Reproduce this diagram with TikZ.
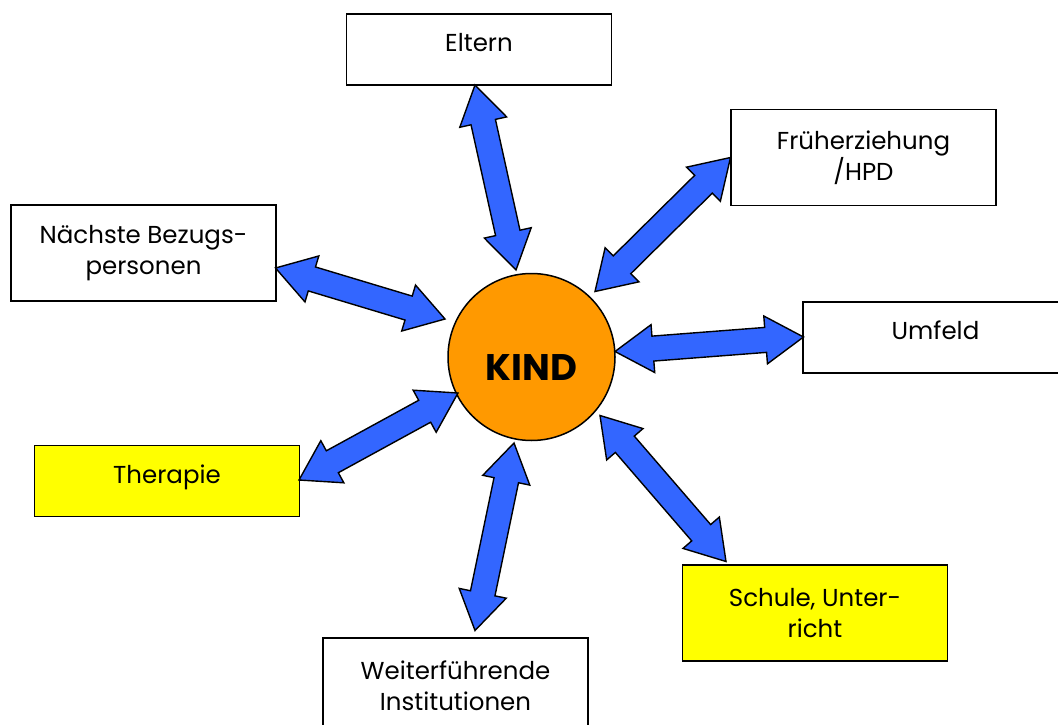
\documentclass[tikz,border=0pt]{standalone}
\usepackage{fontspec}
\setmainfont{Poppins}
\usetikzlibrary{calc}
\definecolor{arrblue}{RGB}{51,102,255}
\definecolor{kindorange}{RGB}{255,153,0}
\definecolor{boxyellow}{RGB}{255,255,0}

% fat double arrow between two named tips
\newcommand{\hl}{38pt}
\newcommand{\hw}{24pt}
\newcommand{\sw}{12.5pt}
\newcommand{\fatarrow}[2]{%
  \draw[fatarr] (#1)
    -- ($(#1)!\hl!(#2)!\hw!90:(#2)$)
    -- ($(#1)!\hl!(#2)!\sw!90:(#2)$)
    -- ($(#2)!\hl!(#1)!\sw!-90:(#1)$)
    -- ($(#2)!\hl!(#1)!\hw!-90:(#1)$)
    -- (#2)
    -- ($(#2)!\hl!(#1)!\hw!90:(#1)$)
    -- ($(#2)!\hl!(#1)!\sw!90:(#1)$)
    -- ($(#1)!\hl!(#2)!\sw!-90:(#2)$)
    -- ($(#1)!\hl!(#2)!\hw!-90:(#2)$)
    -- cycle;}

\begin{document}
\begin{tikzpicture}[
    x=1pt, y=-1pt,
    box/.style={draw=black, line width=1.3pt, fill=white,
        minimum width=265, align=center,
        font=\fontsize{24.5}{31}\selectfont},
    lowbox/.style={box, minimum height=71, text height=17pt, text depth=13pt},
    highbox/.style={box, minimum height=96},
    ybox/.style={fill=boxyellow},
    kind/.style={circle, draw=black, line width=1.5pt, fill=kindorange,
        minimum size=167, inner sep=0pt},
    kindtext/.style={font=\fontsize{37}{40}\selectfont\bfseries, yshift=-11pt},
    fatarr/.style={draw=black, line width=1.4pt, fill=arrblue,
        line join=miter},
]
\useasboundingbox (0,0) rectangle (1058,725);
\clip (0,0) rectangle (1058,725);

% ====== CENTRE ======
\node[kind, label={[kindtext]center:KIND}] (kind) at (531.5,357) {};

% ====== BOXES ======
\node[lowbox] (eltern)   at (479,49.5)   {Eltern};
\node[highbox] (frueh)   at (863.5,157.5) {Früherziehung\\/HPD};
\node[highbox] (bezug)   at (143.5,253)  {Nächste Bezugs-\\personen};
\node[lowbox] (umfeld)   at (935.5,337.5) {Umfeld};
\node[lowbox, ybox] (therapie) at (167,481) {Therapie};
\node[highbox, ybox] (schule)  at (815,613) {Schule, Unter-\\richt};
\node[highbox] (weiter)  at (455.5,686)  {Weiterführende\\Institutionen};

% ====== ARROW TIPS ======
\coordinate (eltern-t) at (475,85);
\coordinate (eltern-k) at (516,270);
\coordinate (frueh-t)  at (730.5,157.5);
\coordinate (frueh-k)  at (595,291.5);
\coordinate (bezug-t)  at (275.5,268);
\coordinate (bezug-k)  at (445,319);
\coordinate (umfeld-t) at (803.5,337);
\coordinate (umfeld-k) at (615,351.5);
\coordinate (therapie-t) at (299,480);
\coordinate (therapie-k) at (458,393);
\coordinate (schule-t) at (726,561.5);
\coordinate (schule-k) at (600,415.5);
\coordinate (weiter-t) at (475,630.5);
\coordinate (weiter-k) at (514,443);

% ====== ARROWS ======
\foreach \b in {eltern, frueh, bezug, umfeld, therapie, schule, weiter}
    \fatarrow{\b-t}{\b-k};

\end{tikzpicture}
\end{document}
